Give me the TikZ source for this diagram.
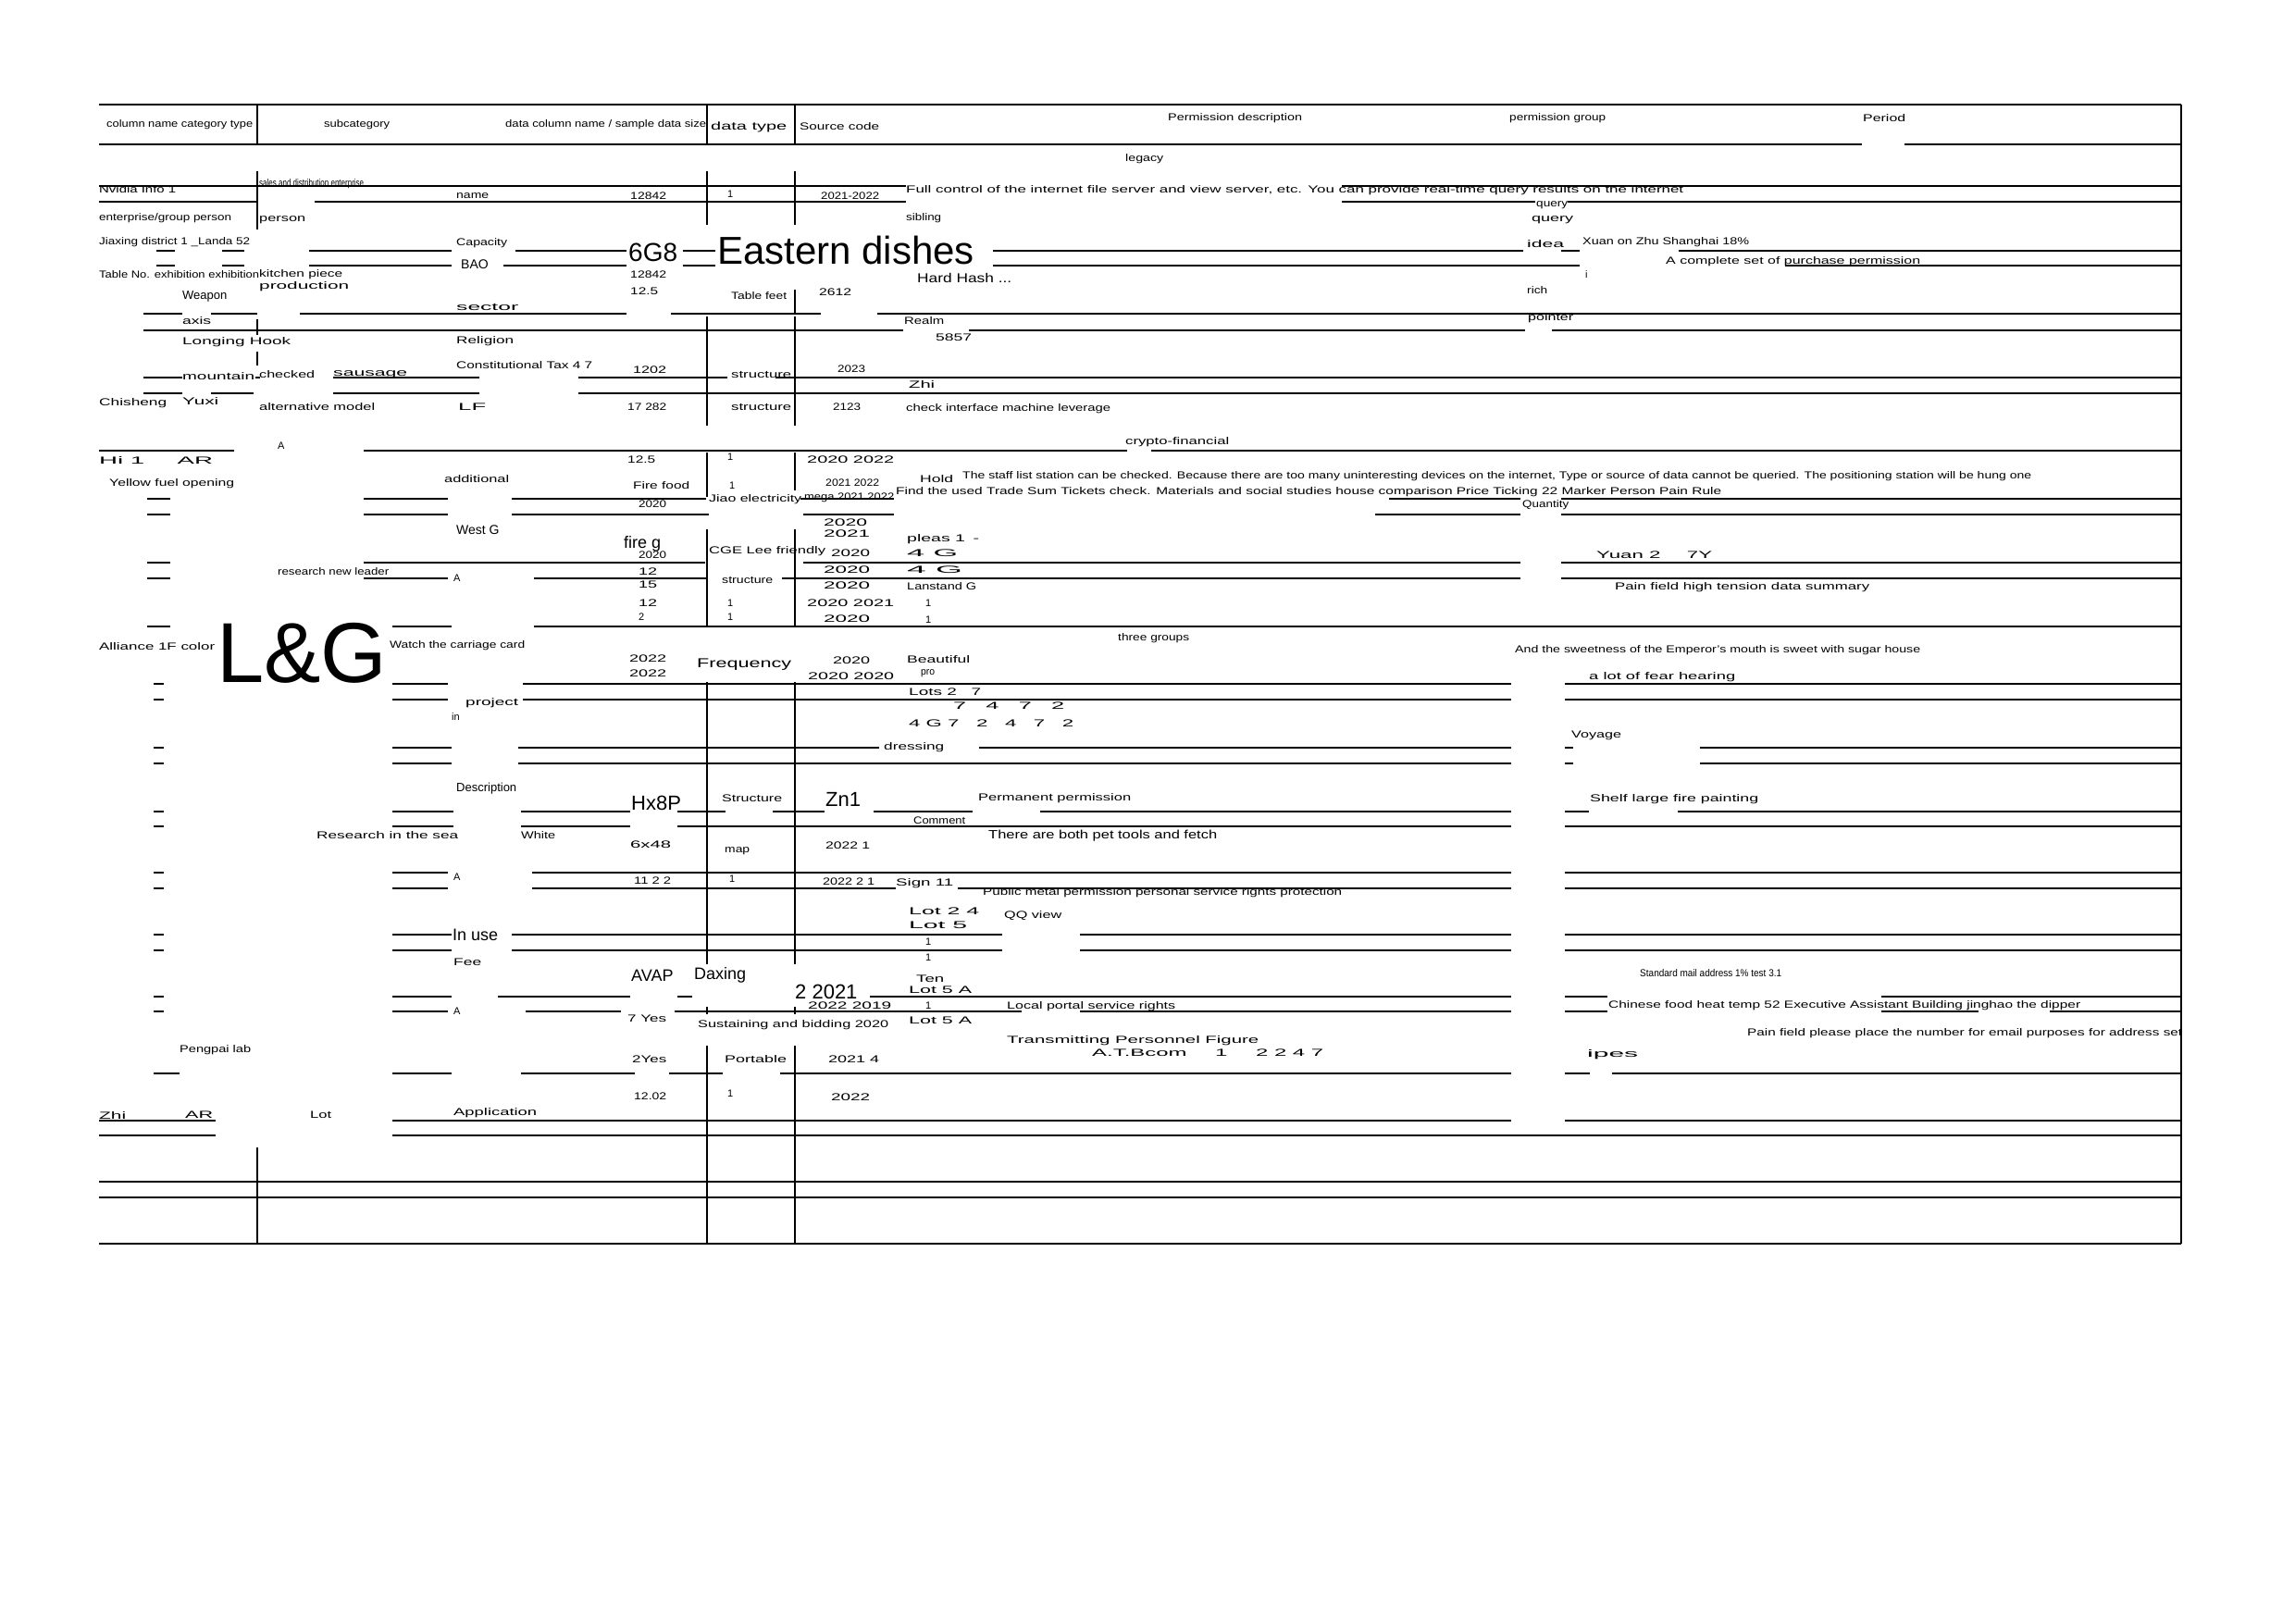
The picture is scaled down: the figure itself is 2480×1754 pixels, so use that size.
\documentclass[tikz,border=0pt]{standalone}
\usepackage{fontspec}
\setmainfont{Liberation Sans}
\usepackage{graphicx}
\newcommand\fw[2]{\resizebox{#1pt}{\height}{#2}}
\newcommand\hsegs[2]{\foreach \a/\b in {#2}{\draw[gl] (\a,#1) -- (\b,#1);}}
\newcommand\vsegs[2]{\foreach \a/\b in {#2}{\draw[gl] (#1,\a) -- (#1,\b);}}
\tikzset{
  gl/.style={line width=1.2pt, black},
  s/.style={font=\fontsize{11}{13}\selectfont, inner sep=0pt, anchor=west},
  m/.style={font=\fontsize{14}{16}\selectfont, inner sep=0pt, anchor=west},
  l/.style={font=\fontsize{18}{20}\selectfont, inner sep=0pt, anchor=west},
  xl/.style={font=\fontsize{22}{24}\selectfont, inner sep=0pt, anchor=west},
  xxl/.style={font=\fontsize{28}{30}\selectfont, inner sep=0pt, anchor=west},
  big/.style={font=\fontsize{42}{44}\selectfont, inner sep=0pt, anchor=west},
  huge/.style={font=\fontsize{92}{94}\selectfont, inner sep=0pt, anchor=west},
}
\begin{document}
\begin{tikzpicture}[x=1pt,y=-1pt]
\useasboundingbox (0,0) rectangle (2480,1754);
% ---------- horizontal rules ----------
\hsegs{113}{107/2357}
\hsegs{156}{107/2012,2058/2357}
\hsegs{201}{107/979,1450/2357}
\hsegs{218}{107/279,340/979,1450/1659,1694/2357}
\hsegs{271}{169/189,240/264,334/488,557/677,738/773,1073/1646,1687/1707,1814/2357}
\hsegs{287}{169/189,240/264,334/488,544/677,738/773,1073/1707,1929/2357}
\hsegs{339}{155/197,228/278,324/677,725/887,948/2357}
\hsegs{357}{155/976,1047/1648,1677/2357}
\hsegs{408}{155/197,276/281,360/518,625/786,838/2357}
\hsegs{425}{155/197,228/274,360/518,625/2357}
\hsegs{487}{107/253,393/1218,1244/2357}
\hsegs{539}{159/184,393/484,553/763,865/966,1501/1643,1687/2357}
\hsegs{556}{159/184,393/484,553/766,868/966,1486/1643,1687/2357}
\hsegs{608}{159/184,393/762,868/1643,1687/2357}
\hsegs{625}{159/184,393/484,577/763,845/1643,1687/2357}
\hsegs{677}{159/184,424/488,577/2357}
\hsegs{739}{166/177,424/484,565/1633,1691/2357}
\hsegs{756}{166/177,424/484,565/1633,1691/2357}
\hsegs{808}{166/177,424/488,560/950,1058/1633,1691/1700,1837/2357}
\hsegs{825}{166/177,424/488,560/1633,1691/1700,1837/2357}
\hsegs{877}{166/177,424/490,563/681,732/784,835/891,944/1051,1124/1633,1691/1717,1813/2357}
\hsegs{893}{166/177,424/490,563/681,732/1633,1691/2357}
\hsegs{943}{166/177,424/484,575/1633,1691/2357}
\hsegs{960}{166/177,424/484,575/968,1035/1633,1691/2357}
\hsegs{1010}{166/177,424/488,553/1083,1167/1633,1691/2357}
\hsegs{1027}{166/177,424/488,553/1083,1167/1633,1691/2357}
\hsegs{1077}{166/177,424/488,538/681,732/748,940/1633,1691/1737,2033/2357}
\hsegs{1093}{166/177,424/484,568/671,729/1104,1167/1633,1691/1737,2033/2138,2215/2357}
\hsegs{1160}{166/194,424/488,563/686,723/781,843/1633,1691/1718,1742/2357}
\hsegs{1211}{107/233,424/1633,1691/2357}
\hsegs{1227}{107/233,424/2357}
\hsegs{1277}{107/2357}
\hsegs{1294}{107/2357}
\hsegs{1344}{107/2357}
% ---------- vertical rules ----------
\vsegs{278}{113/156,185/248,345/362,380/395,1240/1344}
\vsegs{764}{113/156,185/243,342/460,489/537,572/677,737/880,860/1042,1088/1096,1130/1344}
\vsegs{859}{113/156,185/243,313/339,342/460,489/530,572/677,737/880,880/1042,1088/1096,1130/1344}
\vsegs{2357}{113/1344}
% ---------- header ----------
\node[s] (h1) at (115,135) {\fw{158}{column name category type}};
\node[s] (h2) at (350,135) {\fw{71}{subcategory}};
\node[s] (h3) at (546,135) {\fw{217}{data column name / sample data size}};
\node[s,font=\fontsize{12}{14}\selectfont] (h4) at (768,137) {\fw{82}{data type}};
\node[s] (h5) at (864,137) {\fw{86}{Source code}};
\node[s] (h6) at (1262,128) {\fw{145}{Permission description}};
\node[s] (h7) at (1631,128) {\fw{104}{permission group}};
\node[s] (h8) at (2013,128) {\fw{46}{Period}};
% ---------- group labels ----------
\node[s] (g1) at (1216,172) {\fw{41}{legacy}};
\node[s] (g2) at (1216,478) {\fw{112}{crypto-financial}};
\node[s] (g3) at (1208,690) {\fw{77}{three groups}};
% ---------- large labels ----------
\node[xxl] (b1) at (679,273) {6G8};
\node[big] (b2) at (775,270) {Eastern dishes};
\node[huge] (b3) at (234,706) {L\&G};
\node[m] (b4) at (498,286) {BAO};
\node[xl] (b5) at (682,868) {Hx8P};
\node[xl] (b6) at (892,864) {Zn1};
\node[xl] (b7) at (859,1072) {2 2021};
\node[l] (b8) at (682,1054) {AVAP};
\node[l] (b9) at (750,1054) {Daxing};
\node[l] (b10) at (489,1010) {In use};
\node[m] (b11) at (753,718) {\fw{102}{Frequency}};
\node[l] (b12) at (674,588) {fire g};
\node[m] (b13) at (493,573) {West G};
\node[s,font=\fontsize{13}{15}\selectfont] (b14) at (493,852) {Description};
\node[s,font=\fontsize{13}{15}\selectfont] (b15) at (197,320) {Weapon};
\node[m] (b16) at (991,300) {\fw{102}{Hard Hash ...}};
\node[s,font=\fontsize{13}{15}\selectfont] (b17) at (1068,903) {\fw{247}{There are both pet tools and fetch}};
% ---------- first block ----------
\node[s] (a1) at (107,205) {\fw{83}{Nvidia Info 1}};
\node[s] (a2) at (280,199) {\fw{113}{sales and distribution enterprise}};
\node[s] (a3) at (493,212) {\fw{35}{name}};
\node[s] (a4) at (681,212) {\fw{39}{12842}};
\node[s] (a5) at (786,210) {1};
\node[s] (a6) at (887,212) {\fw{63}{2021-2022}};
\node[s] (a7) at (979,206) {\fw{840}{Full control of the internet file server and view server, etc. You can provide real-time query results on the internet}};
\node[s] (a8) at (1660,222) {\fw{34}{query}};
\node[s] (a9) at (107,236) {\fw{143}{enterprise/group person}};
\node[s] (a10) at (280,238) {\fw{50}{person}};
\node[s] (a11) at (979,236) {\fw{38}{sibling}};
\node[s] (a12) at (1655,238) {\fw{45}{query}};
\node[s] (a13) at (107,262) {\fw{163}{Jiaxing district 1 \_Landa 52}};
\node[s] (a14) at (493,263) {\fw{55}{Capacity}};
\node[s] (a15) at (1650,264) {\fw{40}{idea}};
\node[s] (a16) at (1710,262) {\fw{180}{Xuan on Zhu Shanghai 18\%}};
\node[s] (a17) at (1800,283) {\fw{275}{A complete set of purchase permission}};
\node[s] (a18) at (107,297) {\fw{173}{Table No. exhibition exhibition}};
\node[s] (a19) at (280,297) {\fw{90}{kitchen piece}};
\node[s] (a20) at (280,310) {\fw{97}{production}};
\node[s] (a21) at (681,297) {\fw{39}{12842}};
\node[s] (a22) at (681,315) {\fw{30}{12.5}};
\node[s] (a23) at (790,320) {\fw{60}{Table feet}};
\node[s] (a24) at (885,316) {\fw{35}{2612}};
\node[s] (a25) at (1650,314) {\fw{22}{rich}};
\node[s] (a26) at (1713,297) {i};
\node[s] (a27) at (493,332) {\fw{67}{sector}};
\node[s] (a28) at (1651,344) {\fw{49}{pointer}};
\node[s] (a29) at (977,347) {\fw{43}{Realm}};
\node[s] (a30) at (1011,365) {\fw{39}{5857}};
\node[s] (a31) at (197,347) {\fw{31}{axis}};
\node[s] (a32) at (197,370) {\fw{117}{Longing Hook}};
\node[s] (a33) at (493,369) {\fw{62}{Religion}};
\node[s] (a34) at (197,407) {\fw{78}{mountain}};
\node[s] (a35) at (280,405) {\fw{60}{checked}};
\node[s] (a36) at (360,405) {\fw{80}{sausage}};
\node[s] (a37) at (493,395) {\fw{147}{Constitutional Tax 4 7}};
\node[s] (a38) at (684,400) {\fw{36}{1202}};
\node[s] (a39) at (790,405) {\fw{65}{structure}};
\node[s] (a40) at (905,399) {\fw{30}{2023}};
\node[s] (a41) at (982,416) {\fw{28}{Zhi}};
\node[s] (a42) at (107,436) {\fw{73}{Chisheng}};
\node[s] (a43) at (197,434) {\fw{39}{Yuxi}};
\node[s] (a44) at (280,440) {\fw{125}{alternative model}};
\node[s] (a45) at (495,440) {\fw{30}{LF}};
\node[s] (a46) at (678,440) {\fw{42}{17 282}};
\node[s] (a47) at (790,440) {\fw{65}{structure}};
\node[s] (a48) at (900,440) {\fw{30}{2123}};
\node[s] (a49) at (979,442) {\fw{221}{check interface machine leverage}};
\node[s] (a50) at (300,482) {A};
% ---------- second block ----------
\node[s] (c1) at (107,498) {\fw{123}{Hi 1 \quad AR}};
\node[s] (c2) at (678,497) {\fw{30}{12.5}};
\node[s] (c3) at (786,494) {1};
\node[s] (c4) at (872,497) {\fw{94}{2020 2022}};
\node[s] (c5) at (480,518) {\fw{70}{additional}};
\node[s] (c6) at (118,523) {\fw{135}{Yellow fuel opening}};
\node[s] (c7) at (684,525) {\fw{61}{Fire food}};
\node[s] (c8) at (788,525) {1};
\node[s] (c9) at (892,522) {\fw{58}{2021 2022}};
\node[s] (c10) at (994,518) {\fw{36}{Hold}};
\node[s] (c11) at (1040,515) {\fw{1155}{The staff list station can be checked. Because there are too many uninteresting devices on the internet, Type or source of data cannot be queried. The positioning station will be hung one}};
\node[s] (c12) at (968,532) {\fw{892}{Find the used Trade Sum Tickets check. Materials and social studies house comparison Price Ticking 22 Marker Person Pain Rule}};
\node[s] (c13) at (766,540) {\fw{100}{Jiao electricity}};
\node[s] (c14) at (869,538) {\fw{97}{mega 2021 2022}};
\node[s] (c15) at (1645,546) {\fw{50}{Quantity}};
\node[s] (c16) at (690,545) {\fw{30}{2020}};
\node[s] (c17) at (890,565) {\fw{47}{2020}};
\node[s] (c18) at (890,577) {\fw{50}{2021}};
\node[s] (c19) at (980,583) {\fw{78}{pleas 1 \,-}};
\node[s] (c20) at (980,598) {\fw{55}{4 G}};
\node[s] (c21) at (690,600) {\fw{30}{2020}};
\node[s] (c22) at (766,596) {\fw{126}{CGE Lee friendly}};
\node[s] (c23) at (898,598) {\fw{42}{2020}};
\node[s] (c24) at (1725,600) {\fw{125}{Yuan 2 \quad 7Y}};
\node[s] (c25) at (300,618) {\fw{120}{research new leader}};
\node[s] (c26) at (490,625) {A};
\node[s] (c27) at (690,618) {\fw{20}{12}};
\node[s] (c28) at (690,632) {\fw{20}{15}};
\node[s] (c29) at (780,627) {\fw{55}{structure}};
\node[s] (c30) at (890,616) {\fw{50}{2020}};
\node[s] (c31) at (980,616) {\fw{60}{4 G}};
\node[s] (c32) at (890,633) {\fw{50}{2020}};
\node[s] (c33) at (980,634) {\fw{75}{Lanstand G}};
\node[s] (c34) at (1745,635) {\fw{275}{Pain field high tension data summary}};
\node[s] (c35) at (786,652) {1};
\node[s] (c36) at (690,652) {\fw{20}{12}};
\node[s] (c37) at (872,652) {\fw{94}{2020 2021}};
\node[s] (c38) at (1000,652) {1};
\node[s] (c39) at (690,667) {2};
\node[s] (c40) at (786,667) {1};
\node[s] (c41) at (890,669) {\fw{50}{2020}};
\node[s] (c42) at (1000,670) {1};
% ---------- third block ----------
\node[s] (d1) at (107,699) {\fw{125}{Alliance 1F color}};
\node[s] (d2) at (421,698) {\fw{146}{Watch the carriage card}};
\node[s] (d3) at (680,712) {\fw{40}{2022}};
\node[s] (d4) at (900,714) {\fw{40}{2020}};
\node[s] (d5) at (980,713) {\fw{68}{Beautiful}};
\node[s] (d6) at (1637,703) {\fw{438}{And the sweetness of the Emperor's mouth is sweet with sugar house}};
\node[s] (d7) at (680,728) {\fw{40}{2022}};
\node[s] (d8) at (873,731) {\fw{93}{2020 2020}};
\node[s] (d9) at (995,728) {\fw{15}{pro}};
\node[s] (d10) at (1717,732) {\fw{158}{a lot of fear hearing}};
\node[s] (d11) at (982,748) {\fw{78}{Lots 2 \; 7}};
\node[s] (d12) at (1030,763) {\fw{120}{7 \; 4 \; 7 \; 2}};
\node[s] (d13) at (982,782) {\fw{178}{4 G 7 \; 2 \; 4 \; 7 \; 2}};
\node[s] (d14) at (503,760) {\fw{57}{project}};
\node[s] (d15) at (488,775) {in};
\node[s] (d16) at (1698,795) {\fw{54}{Voyage}};
\node[s] (d17) at (955,808) {\fw{65}{dressing}};
\node[s] (d18) at (780,863) {\fw{65}{Structure}};
\node[s] (d19) at (1057,863) {\fw{165}{Permanent permission}};
\node[s] (d20) at (1718,864) {\fw{182}{Shelf large fire painting}};
\node[s] (d21) at (987,887) {\fw{56}{Comment}};
\node[s] (d22) at (342,903) {\fw{153}{Research in the sea}};
\node[s] (d23) at (563,903) {\fw{37}{White}};
\node[s] (d24) at (681,913) {\fw{44}{6x48}};
\node[s] (d25) at (783,920) {\fw{27}{map}};
\node[s] (d26) at (892,914) {\fw{48}{2022 1}};
\node[s] (d27) at (490,948) {A};
\node[s] (d28) at (685,952) {\fw{40}{11 2 2}};
\node[s] (d29) at (788,950) {1};
\node[s] (d30) at (889,953) {\fw{56}{2022 2 1}};
\node[s] (d31) at (968,955) {\fw{62}{Sign 11}};
\node[s] (d32) at (1062,965) {\fw{388}{Public metal permission personal service rights protection}};
\node[s] (d33) at (982,985) {\fw{76}{Lot 2 4}};
\node[s] (d34) at (1085,990) {\fw{62}{QQ view}};
\node[s] (d35) at (982,1000) {\fw{63}{Lot 5}};
\node[s] (d36) at (1000,1018) {1};
\node[s] (d37) at (1000,1035) {1};
\node[s] (d38) at (490,1040) {\fw{30}{Fee}};
\node[s] (d39) at (990,1058) {\fw{30}{Ten}};
\node[s] (d40) at (982,1070) {\fw{68}{Lot 5 A}};
\node[s] (d41) at (1000,1087) {1};
\node[s] (d42) at (982,1103) {\fw{68}{Lot 5 A}};
\node[s] (d43) at (678,1101) {\fw{42}{7 Yes}};
\node[s] (d44) at (873,1087) {\fw{90}{2022 2019}};
\node[s] (d45) at (754,1108) {\fw{206}{Sustaining and bidding 2020}};
\node[s] (d46) at (1088,1088) {\fw{182}{Local portal service rights}};
\node[s] (d47) at (1772,1052) {\fw{153}{Standard mail address 1\% test 3.1}};
\node[s] (d48) at (1738,1087) {\fw{510}{Chinese food heat temp 52 Executive Assistant Building jinghao the dipper}};
\node[s] (d49) at (1888,1117) {\fw{470}{Pain field please place the number for email purposes for address set}};
\node[s] (d50) at (490,1093) {A};
\node[s] (d51) at (194,1135) {\fw{77}{Pengpai lab}};
\node[s] (d52) at (1088,1125) {\fw{272}{Transmitting Personnel Figure}};
\node[s] (d53) at (1180,1138) {\fw{250}{A.T.Bcom \quad 1 \quad 2 2 4 7}};
\node[s] (d54) at (683,1145) {\fw{37}{2Yes}};
\node[s] (d55) at (783,1145) {\fw{67}{Portable}};
\node[s] (d56) at (895,1145) {\fw{55}{2021 4}};
\node[s] (d57) at (1715,1140) {\fw{55}{ipes}};
\node[s] (d58) at (685,1185) {\fw{35}{12.02}};
\node[s] (d59) at (786,1182) {1};
\node[s] (d60) at (898,1186) {\fw{42}{2022}};
\node[s] (d61) at (107,1205) {\fw{29}{Zhi}};
\node[s] (d62) at (200,1205) {\fw{30}{AR}};
\node[s] (d63) at (335,1205) {\fw{23}{Lot}};
\node[s] (d64) at (490,1203) {\fw{90}{Application}};
\end{tikzpicture}
\end{document}
